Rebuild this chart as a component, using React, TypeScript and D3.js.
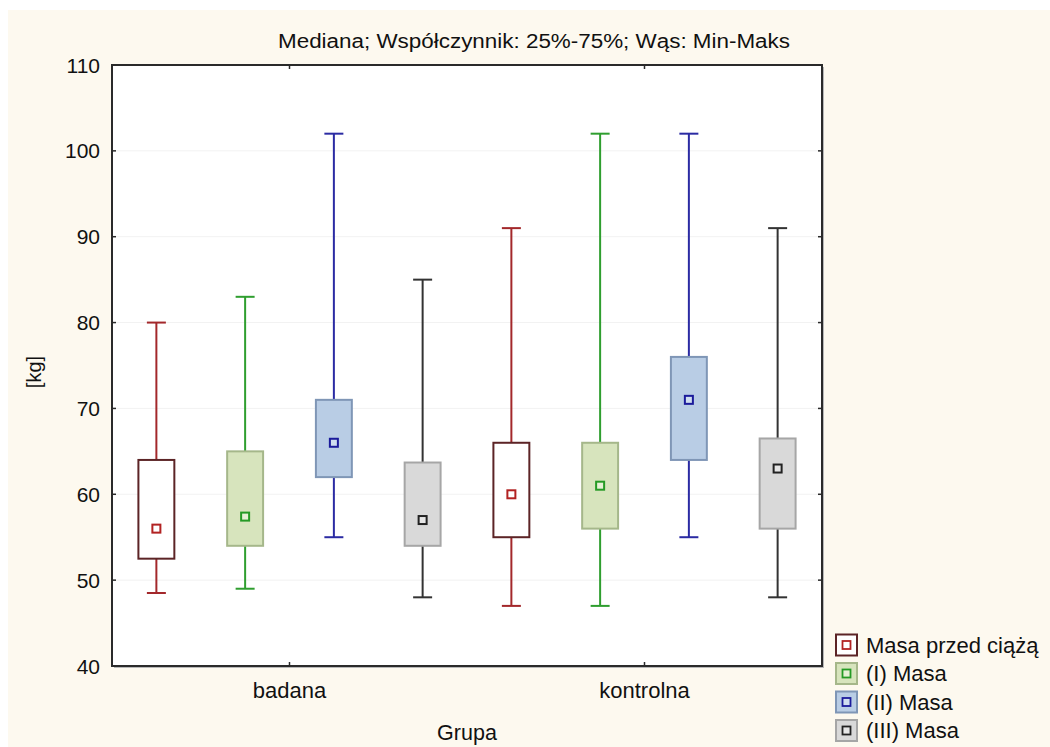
import React from "react";
import * as d3 from "d3";

const groups = ["badana", "kontrolna"];
const seriesNames = ["Masa przed ciążą", "(I) Masa", "(II) Masa", "(III) Masa"];
const yTicks = [40, 50, 60, 70, 80, 90, 100, 110];

// values per series, per group [badana, kontrolna]
const mins = [
  [48.5, 47],
  [49, 47],
  [55, 55],
  [48, 48],
];
const q1s = [
  [52.5, 55],
  [54, 56],
  [62, 64],
  [54, 56],
];
const medians = [
  [56, 60],
  [57.4, 61],
  [66, 71],
  [57, 63],
];
const q3s = [
  [64, 66],
  [65, 66],
  [71, 76],
  [63.7, 66.5],
];
const maxs = [
  [80, 91],
  [83, 102],
  [102, 102],
  [85, 91],
];

const styles = [
  { whisker: "#a3282b", fill: "#ffffff", border: "#5c2426", marker: "#b22222", markerFill: "#ffffff" },
  { whisker: "#2f9e2f", fill: "#d7e4bd", border: "#a5b78a", marker: "#259a25", markerFill: "#e6f0d5" },
  { whisker: "#2b2ba3", fill: "#b9cde5", border: "#7f96b6", marker: "#1b1b9b", markerFill: "#d0def0" },
  { whisker: "#333333", fill: "#d9d9d9", border: "#a6a6a6", marker: "#222222", markerFill: "#e6e6e6" },
];

const FONT = "'Liberation Sans', Arial, sans-serif";

export default function App() {
  const left = 112, right = 822, top = 65, bottom = 666;
  const y = d3.scaleLinear().domain([40, 110]).range([bottom, top]);
  const x0 = d3.scaleBand<string>().domain(groups).range([left, right]);
  const x1 = d3.scaleBand<string>().domain(seriesNames).range([0, x0.bandwidth()]);
  const boxW = x1.bandwidth() * 0.405;
  const capW = 19;
  const m = 8;

  return (
    <svg width={1050} height={747} style={{ position: "absolute", left: 0, top: 0 }}>
      <rect x={0} y={0} width={1050} height={747} fill="#ffffff" />
      <rect x={8} y={10} width={1042} height={737} fill="#fdf9ef" />
      <text x={534} y={48} textAnchor="middle" fontFamily={FONT} fontSize={20} fill="#111" textLength={512} lengthAdjust="spacingAndGlyphs">
        Mediana; Współczynnik: 25%-75%; Wąs: Min-Maks
      </text>
      {/* plot area */}
      <rect x={left + 2} y={top + 2} width={right - left} height={bottom - top} fill="#b8b8b8" />
      <rect x={left} y={top} width={right - left} height={bottom - top} fill="#ffffff" />
      {yTicks.slice(1, -1).map((t) => (
        <line key={"g" + t} x1={left} x2={right} y1={y(t)} y2={y(t)} stroke="#f2f2f2" strokeWidth={1} />
      ))}
      <rect x={left} y={top} width={right - left} height={bottom - top} fill="none" stroke="#2a2a2a" strokeWidth={2} />
      {yTicks.map((t) => (
        <g key={"t" + t}>
          <line x1={left} x2={left + 4} y1={y(t)} y2={y(t)} stroke="#2a2a2a" strokeWidth={1.5} />
          <line x1={right - 4} x2={right} y1={y(t)} y2={y(t)} stroke="#2a2a2a" strokeWidth={1.5} />
          <text x={100} y={y(t)} dy="0.36em" textAnchor="end" fontFamily={FONT} fontSize={21} fill="#111">
            {t}
          </text>
        </g>
      ))}
      {groups.map((g) => {
        const cx = (x0(g) as number) + x0.bandwidth() / 2;
        return (
          <g key={"xt" + g}>
            <line x1={cx} x2={cx} y1={bottom} y2={bottom - 4} stroke="#2a2a2a" strokeWidth={1.5} />
            <line x1={cx} x2={cx} y1={top} y2={top + 4} stroke="#2a2a2a" strokeWidth={1.5} />
            <text x={cx} y={698} textAnchor="middle" fontFamily={FONT} fontSize={22} fill="#111">
              {g}
            </text>
          </g>
        );
      })}
      {groups.map((g, gi) =>
        seriesNames.map((s, si) => {
          const cx = (x0(g) as number) + (x1(s) as number) + x1.bandwidth() / 2;
          const st = styles[si];
          const yMin = y(mins[si][gi]);
          const yMax = y(maxs[si][gi]);
          const yQ1 = y(q1s[si][gi]);
          const yQ3 = y(q3s[si][gi]);
          const yMed = y(medians[si][gi]);
          return (
            <g key={g + s}>
              <line x1={cx} x2={cx} y1={yMax} y2={yQ3} stroke={st.whisker} strokeWidth={2} />
              <line x1={cx} x2={cx} y1={yQ1} y2={yMin} stroke={st.whisker} strokeWidth={2} />
              <line x1={cx - capW / 2} x2={cx + capW / 2} y1={yMax} y2={yMax} stroke={st.whisker} strokeWidth={2} />
              <line x1={cx - capW / 2} x2={cx + capW / 2} y1={yMin} y2={yMin} stroke={st.whisker} strokeWidth={2} />
              <rect x={cx - boxW / 2} y={yQ3} width={boxW} height={yQ1 - yQ3} fill={st.fill} stroke={st.border} strokeWidth={2} />
              <rect x={cx - m / 2} y={yMed - m / 2} width={m} height={m} fill={st.markerFill} stroke={st.marker} strokeWidth={2} />
            </g>
          );
        })
      )}
      <text transform="translate(41,372) rotate(-90)" textAnchor="middle" fontFamily={FONT} fontSize={20} fill="#111">
        [kg]
      </text>
      <text x={467} y={740} textAnchor="middle" fontFamily={FONT} fontSize={21.5} fill="#111">
        Grupa
      </text>
      {seriesNames.map((s, si) => {
        const st = styles[si];
        const cy = 645 + si * 28.5;
        return (
          <g key={"lg" + s}>
            <rect x={836} y={cy - 10.5} width={21} height={21} fill={st.fill} stroke={st.border} strokeWidth={2} />
            <rect x={846.5 - 4} y={cy - 4} width={8} height={8} fill={st.markerFill} stroke={st.marker} strokeWidth={1.8} />
            <text x={866} y={cy} dy="0.36em" fontFamily={FONT} fontSize={22} fill="#111">
              {s}
            </text>
          </g>
        );
      })}
    </svg>
  );
}
